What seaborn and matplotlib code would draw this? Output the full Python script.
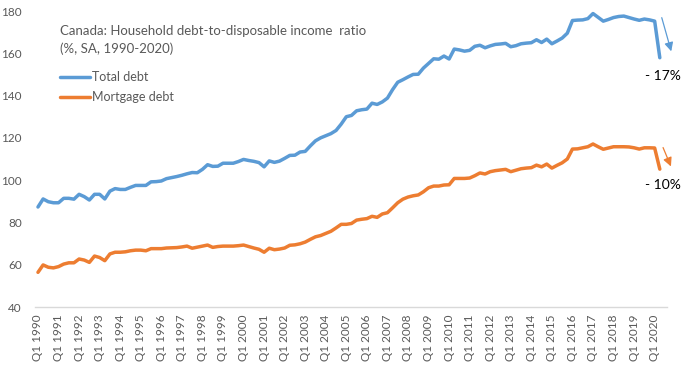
import matplotlib
matplotlib.use("Agg")
import matplotlib.pyplot as plt
import seaborn as sns
import pandas as pd

years = list(range(1990, 2021))
quarters = [f"Q{q} {y}" for y in years for q in range(1, 5)][:122]

total_debt = [
    87.3, 91.1, 89.8, 89.3,
    89.3, 91.4, 91.4, 91.0,
    93.3, 92.2, 90.6, 93.3,
    93.3, 91.1, 94.8, 96.0,
    95.6, 95.6, 96.6, 97.5,
    97.5, 97.5, 99.2, 99.3,
    99.6, 100.7, 101.2, 101.7,
    102.3, 103.0, 103.6, 103.5,
    105.1, 107.3, 106.5, 106.6,
    108.0, 108.0, 108.0, 108.8,
    109.8, 109.3, 108.9, 108.3,
    106.3, 109.1, 108.4, 109.0,
    110.3, 111.7, 111.8, 113.3,
    113.6, 116.2, 118.6, 120.0,
    121.0, 122.0, 123.5, 126.5,
    130.0, 130.6, 132.8, 133.3,
    133.6, 136.4, 135.8, 137.0,
    138.8, 142.8, 146.3, 147.5,
    148.8, 150.0, 150.1, 153.0,
    155.2, 157.4, 157.2, 158.7,
    157.3, 162.0, 161.6, 161.0,
    161.4, 163.3, 163.8, 162.6,
    163.5, 164.2, 164.4, 164.7,
    163.1, 163.6, 164.5, 164.8,
    165.0, 166.4, 165.1, 166.7,
    164.5, 165.8, 167.2, 169.5,
    175.5, 175.7, 175.8, 176.4,
    178.8, 177.0, 175.2, 176.0,
    176.9, 177.4, 177.6, 176.9,
    176.2, 175.6, 176.2, 175.8,
    175.2, 157.9,
]

mortgage_debt = [
    56.4, 59.9, 58.8, 58.5,
    59.1, 60.3, 60.9, 60.9,
    62.7, 62.2, 61.1, 64.1,
    63.4, 61.9, 65.1, 65.9,
    65.9, 66.1, 66.6, 66.9,
    66.9, 66.6, 67.6, 67.6,
    67.6, 67.9, 68.0, 68.1,
    68.4, 68.8, 67.8, 68.3,
    68.8, 69.3, 68.2, 68.6,
    68.8, 68.8, 68.8, 69.0,
    69.3, 68.6, 67.9, 67.3,
    65.9, 67.8, 67.1, 67.4,
    67.9, 69.2, 69.4, 69.9,
    70.7, 72.0, 73.2, 73.8,
    74.8, 75.8, 77.4, 79.1,
    79.1, 79.5, 81.1, 81.5,
    81.8, 82.9, 82.4, 84.0,
    84.6, 86.9, 89.3, 91.0,
    92.0, 92.6, 93.0, 94.5,
    96.4, 97.2, 97.2, 97.7,
    97.8, 100.8, 100.8, 100.8,
    101.0, 102.1, 103.4, 102.9,
    104.0, 104.5, 104.8, 105.1,
    104.0, 104.7, 105.4, 105.7,
    105.9, 107.1, 106.3, 107.6,
    105.7, 107.0, 108.2, 110.0,
    114.7, 114.8, 115.3, 115.8,
    117.1, 115.8, 114.6, 115.2,
    115.8, 115.8, 115.8, 115.7,
    115.3, 114.7, 115.3, 115.3,
    115.2, 105.2,
]

series_names = ["Total debt", "Mortgage debt"]
colors = ["#5B9BD5", "#ED7D31"]
title_lines = ["Canada: Household debt-to-disposable income  ratio", "(%, SA, 1990-2020)"]
change_labels = ["- 17%", "- 10%"]
y_ticks = [40, 60, 80, 100, 120, 140, 160, 180]

df = pd.DataFrame({
    "idx": list(range(len(quarters))) * 2,
    "value": total_debt + mortgage_debt,
    "series": [series_names[0]] * len(quarters) + [series_names[1]] * len(quarters),
})

sns.set_theme(style="white")
plt.rcParams["font.family"] = ["Lato", "DejaVu Sans"]

W, H = 685, 365
fig = plt.figure(figsize=(W / 100, H / 100), dpi=100)
ax = fig.add_axes([35 / W, 1 - 307 / H, (667 - 35) / W, (307 - 11) / H])

sns.lineplot(data=df, x="idx", y="value", hue="series", palette=colors,
             linewidth=2.5, ax=ax, legend=True)

ax.set_ylim(40, 180)
ax.set_xlim(-0.58, 122.4)
ax.set_yticks(y_ticks)
ax.set_yticklabels([str(v) for v in y_ticks])
xt = list(range(0, len(quarters), 4))
ax.set_xticks(xt)
ax.set_xticklabels([quarters[i] for i in xt], rotation=90)
ax.set_xlabel("")
ax.set_ylabel("")
ax.tick_params(axis="y", length=0, pad=9.5, labelsize=8.5, labelcolor="#595959")
ax.tick_params(axis="x", length=0, pad=5.5, labelsize=8.5, labelcolor="#595959")
for s in ["top", "right", "left"]:
    ax.spines[s].set_visible(False)
ax.spines["bottom"].set_color("#D9D9D9")
ax.spines["bottom"].set_linewidth(1.0)
ax.grid(False)

handles, labels = ax.get_legend_handles_labels()
leg = ax.legend(handles, labels, loc="upper left", bbox_to_anchor=(60 / W, 1 - 71 / H),
                bbox_transform=fig.transFigure, frameon=False, fontsize=9,
                handlelength=2.4, handletextpad=0.2, labelspacing=0.65,
                borderpad=0, borderaxespad=0)
for t in leg.get_texts():
    t.set_color("#595959")

fig.text(60 / W, 1 - 31 / H, title_lines[0], fontsize=9.5, color="#595959", va="center", ha="left")
fig.text(60 / W, 1 - 49 / H, title_lines[1], fontsize=9.5, color="#595959", va="center", ha="left")

ax.annotate("", xy=(672, H - 54), xytext=(661, H - 15), xycoords="figure pixels",
            textcoords="figure pixels",
            arrowprops=dict(arrowstyle="-|>", color=colors[0], lw=0.9, mutation_scale=13),
            annotation_clip=False)
ax.annotate("", xy=(672, H - 169), xytext=(662, H - 145), xycoords="figure pixels",
            textcoords="figure pixels",
            arrowprops=dict(arrowstyle="-|>", color=colors[1], lw=0.9, mutation_scale=13),
            annotation_clip=False)
fig.text(663 / W, 1 - 76 / H, change_labels[0], fontsize=10, color="black", ha="center", va="center")
fig.text(663 / W, 1 - 185 / H, change_labels[1], fontsize=10, color="black", ha="center", va="center")

fig.savefig("out.png", dpi=100)
